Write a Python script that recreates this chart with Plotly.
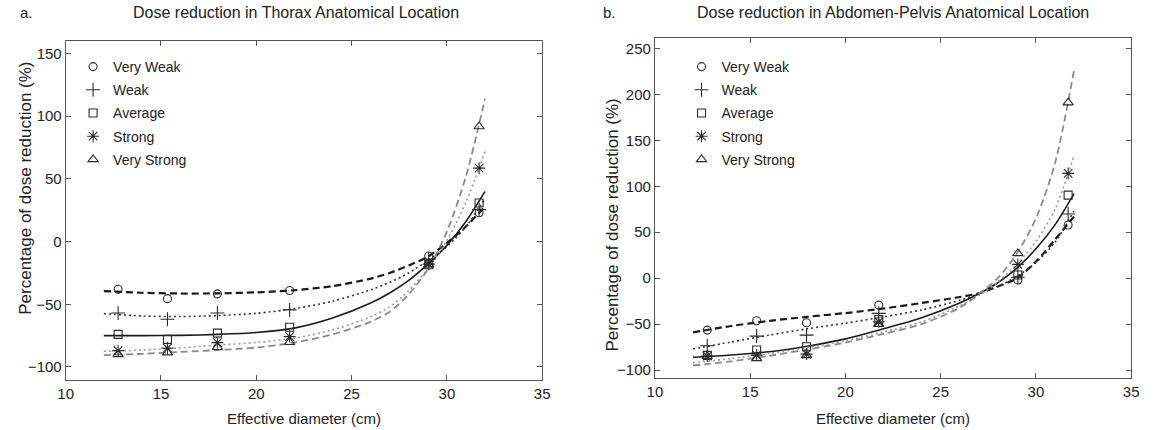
import plotly.graph_objects as go

# ---------------- data ----------------
categories = ["Very Weak", "Weak", "Average", "Strong", "Very Strong"]

# measured points (effective diameter, cm)
diam = [12.75, 15.34, 17.96, 21.75, 29.05, 31.69]

thorax_pts = {
    "Very Weak":   [-38, -45.5, -41.7, -39, -11.5, 23],
    "Weak":        [-57, -62, -57, -54.5, -14, 25.5],
    "Average":     [-74, -78, -73, -68.3, -18.5, 30.8],
    "Strong":      [-87, -85, -80.6, -75.8, -18, 58.6],
    "Very Strong": [-90, -88.6, -84.3, -80.3, -18.5, 91.8],
}
abdomen_pts = {
    "Very Weak":   [-56.5, -46.3, -48.5, -29.3, -2, 57.8],
    "Weak":        [-73.5, -63, -62, -38.3, 1, 69.8],
    "Average":     [-84, -78.2, -74.6, -44.9, 3.4, 90.4],
    "Strong":      [-84.7, -83.7, -82.6, -47.4, 15, 114],
    "Very Strong": [-85, -87.3, -84, -50, 27, 191],
}

# fitted curves
fit_x = [12, 14, 16, 18, 20, 22, 24, 26, 27, 28, 29, 30, 31, 32]
thorax_fit = {
    "Very Weak":   [-39.5, -40.8, -41.4, -41.3, -40.5, -38.8, -35.5, -29.5, -25, -19, -12, -1, 12, 28],
    "Weak":        [-57.5, -59.3, -59.8, -59, -57.2, -53.5, -47.5, -38.5, -32.5, -25, -15, -4, 12, 34],
    "Average":     [-75, -75, -74.8, -74, -72.5, -69, -61, -49, -41, -31, -18, -3, 16, 40],
    "Strong":      [-87.5, -86.5, -84.8, -82.5, -80.5, -77, -70.5, -60, -52, -39, -21.5, 1, 31.5, 72],
    "Very Strong": [-90.5, -89.5, -88, -86.5, -84.5, -80.5, -74, -64, -56, -42, -22, 8, 52, 114],
}
abdomen_fit = {
    "Very Weak":   [-59, -52, -46.5, -42, -38, -33, -27, -20.5, -16.5, -9, 0, 18, 42, 67],
    "Weak":        [-77, -69.5, -62, -55, -49, -42, -34.5, -24, -17, -9, 2, 17, 39, 73],
    "Average":     [-86, -83.5, -80, -74, -66, -55, -43, -27, -17, -5, 11, 32, 58, 92],
    "Strong":      [-92, -87.5, -82, -75.5, -68, -58.5, -47.5, -30, -19, -4, 15, 40, 75, 133],
    "Very Strong": [-95, -90.5, -84.5, -77.5, -70, -60.5, -50, -32, -17, 0, 27, 65, 125, 226],
}

x_ticks = [10, 15, 20, 25, 30, 35]
y_ticks_left = [-100, -50, 0, 50, 100, 150]
y_ticks_right = [-100, -50, 0, 50, 100, 150, 200, 250]

# ---------------- styles ----------------
markers = {
    "Very Weak":   dict(symbol="circle-open", size=8),
    "Weak":        dict(symbol="cross-thin-open", size=10),
    "Average":     dict(symbol="square-open", size=8),
    "Strong":      dict(symbol="asterisk-open", size=10),
    "Very Strong": dict(symbol="triangle-up-open", size=9),
}
lines = {
    "Very Weak":   dict(color="#1a1a1a", width=2.2, dash="7px,4px"),
    "Weak":        dict(color="#333333", width=1.6, dash="2px,3px"),
    "Average":     dict(color="#1a1a1a", width=1.6, dash="solid"),
    "Strong":      dict(color="#9a9a9a", width=1.6, dash="2px,3px"),
    "Very Strong": dict(color="#8a8a8a", width=1.8, dash="7px,4px"),
}

FONT = "Liberation Sans, Arial, sans-serif"
TXT = "#222222"
W, H = 1153, 430

fig = go.Figure()

panels = [
    ("x", "y", "legend", thorax_pts, thorax_fit),
    ("x2", "y2", "legend2", abdomen_pts, abdomen_fit),
]
for xa, ya, lg, pts, fit in panels:
    for c in categories:
        fig.add_trace(go.Scatter(
            x=fit_x, y=fit[c], mode="lines", line=dict(shape="spline", smoothing=0.8, **lines[c]),
            xaxis=xa, yaxis=ya, showlegend=False, hoverinfo="skip"))
    for c in categories:
        fig.add_trace(go.Scatter(
            x=diam, y=pts[c], mode="markers", name=c, legend=lg, legendgroup=lg + c,
            marker=dict(color="#2a2a2a", line=dict(color="#2a2a2a", width=1.1), **markers[c]),
            xaxis=xa, yaxis=ya))

def px_x(p):
    return p / W

def px_y(p):
    return 1 - p / H

axis_common = dict(
    showline=True, linecolor="#555555", linewidth=1, mirror="ticks",
    ticks="inside", ticklen=5, tickcolor="#555555", tickwidth=1,
    showgrid=False, zeroline=False,
    tickfont=dict(family=FONT, size=15, color=TXT),
)

legend_common = dict(
    bgcolor="rgba(255,255,255,0)", borderwidth=0,
    font=dict(family=FONT, size=14, color=TXT),
    tracegroupgap=2, itemwidth=30, xanchor="left", yanchor="top",
)

fig.update_layout(
    width=W, height=H,
    margin=dict(l=0, r=0, t=0, b=0),
    paper_bgcolor="white", plot_bgcolor="white",
    font=dict(family=FONT, color=TXT),
    xaxis=dict(domain=[px_x(58.5), px_x(541.7)], range=[10, 35], tickvals=x_ticks,
               anchor="y", **axis_common),
    yaxis=dict(domain=[px_y(380), px_y(40.5)], range=[-110.4, 160.4], tickvals=y_ticks_left,
               anchor="x", **axis_common),
    xaxis2=dict(domain=[px_x(656), px_x(1139)], range=[10, 35], tickvals=x_ticks,
                anchor="y2", **axis_common),
    yaxis2=dict(domain=[px_y(378), px_y(38.3)], range=[-108.6, 261], tickvals=y_ticks_right,
                anchor="x2", **axis_common),
    legend=dict(x=px_x(66), y=px_y(51), **legend_common),
    legend2=dict(x=px_x(683), y=px_y(51), **legend_common),
    showlegend=True,
)

annots = [
    dict(text="a.", x=px_x(10), y=px_y(13), xanchor="left", size=15),
    dict(text="b.", x=px_x(601), y=px_y(13), xanchor="left", size=15),
    dict(text="Dose reduction in Thorax Anatomical Location", x=px_x(292), y=px_y(13), xanchor="center", size=16),
    dict(text="Dose reduction in Abdomen-Pelvis Anatomical Location", x=px_x(897), y=px_y(13), xanchor="center", size=16),
    dict(text="Effective diameter (cm)", x=px_x(300), y=px_y(418), xanchor="center", size=15),
    dict(text="Effective diameter (cm)", x=px_x(897), y=px_y(418), xanchor="center", size=15),
]
for a in annots:
    fig.add_annotation(text=a["text"], x=a["x"], y=a["y"], xref="paper", yref="paper",
                       xanchor=a["xanchor"], yanchor="middle", showarrow=False,
                       font=dict(family=FONT, size=a["size"], color=TXT))
for txt, xp, yp in [("Percentage of dose reduction (%)", 17, 188),
                    ("Percentage of dose reduction (%)", 613, 225)]:
    fig.add_annotation(text=txt, x=px_x(xp), y=px_y(yp), xref="paper", yref="paper",
                       xanchor="center", yanchor="middle", textangle=-90, showarrow=False,
                       font=dict(family=FONT, size=17, color=TXT))

fig.write_html("out.html", config={"displayModeBar": False},
               post_script="document.body.style.margin='0';")
